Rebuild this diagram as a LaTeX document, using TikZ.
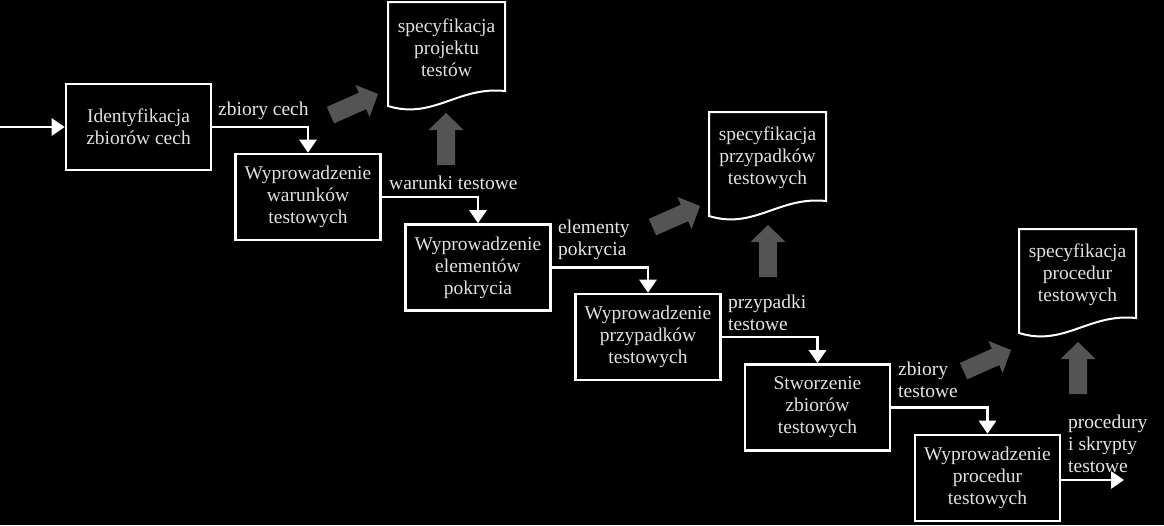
\documentclass[tikz,border=0pt]{standalone}
\usepackage{fontspec}
\setmainfont{Liberation Serif}
\usetikzlibrary{arrows.meta}
\begin{document}
\begin{tikzpicture}[x=1pt,y=-1pt,
  box/.style={draw=white,line width=2.6pt,fill=black,minimum width=145pt,minimum height=86pt,
    inner sep=0pt,align=center,text=white!88!black,font=\fontsize{19.5}{22}\selectfont},
  conn/.style={draw=white,line width=2.8pt,-{Triangle[width=17pt,length=13pt]}},
  lbl/.style={anchor=west,align=left,inner sep=0pt,text=white!90!black,font=\fontsize{19.5}{22}\selectfont},
  doc/.style={draw=white,line width=2pt,fill=black},
  doctext/.style={align=center,inner sep=0pt,text=white!88!black,font=\fontsize{19.5}{22}\selectfont},
  blk/.style={fill=black!67!white,draw=none}
]
\fill[black] (0,0) rectangle (1164,525);
\useasboundingbox (0,0) rectangle (1164,525);

% boxes
\node[box] (b1) at (138.5,127) {Identyfikacja\\zbiorów cech};
\node[box] (b2) at (308,197) {Wyprowadzenie\\warunków\\testowych};
\node[box] (b3) at (478,267.5) {Wyprowadzenie\\elementów\\pokrycia};
\node[box] (b4) at (648,337) {Wyprowadzenie\\przypadków\\testowych};
\node[box] (b5) at (817.5,407.5) {Stworzenie\\zbiorów\\testowych};
\node[box] (b6) at (987.5,478) {Wyprowadzenie\\procedur\\testowych};

\coordinate (in) at (0,127);
\coordinate (out) at (1124,480);
\draw[conn] (in) -- (b1.west);
\draw[conn] (b1.east) -| (b2.north);
\draw[conn] (b2.east) -| (b3.north);
\draw[conn] (b3.east) -| (b4.north);
\draw[conn] (b4.east) -| (b5.north);
\draw[conn] (b5.east) -| (b6.north);
\draw[conn] (b6.east|-out) -- (out);

% labels
\node[lbl] (l1) at (218,111) {zbiory cech};
\node[lbl] (l2) at (389,183) {warunki testowe};
\node[lbl] (l3) at (558,240) {elementy\\pokrycia};
\node[lbl] (l4) at (728,313) {przypadki\\testowe};
\node[lbl] (l5) at (898,380) {zbiory\\testowe};
\node[lbl] (l6) at (1068,443.5) {procedury\\i skrypty\\testowe};

% documents
\foreach \X/\Y in {388/2,709/112,1019/229}{
  \draw[doc] (\X,\Y) -- (\X+117,\Y) -- (\X+117,\Y+89)
     .. controls (\X+70,\Y+84) and (\X+45,\Y+118) .. (\X,\Y+104) -- cycle;
}
\node[doctext] (t1) at (446.5,48) {specyfikacja\\projektu\\testów};
\node[doctext] (t2) at (767.5,158) {specyfikacja\\przypadków\\testowych};
\node[doctext] (t3) at (1077.5,275) {specyfikacja\\procedur\\testowych};

% block arrows (tip at shift point)
\foreach \px/\py/\ang in {446/113/90, 768/225/90, 1078/342/90, 378/94/24, 700/206/24, 1011/350/24}{
  \fill[blk,shift={(\px,\py)},rotate=\ang]
    (0,0) -- (-17,-17.5) -- (-17,-9) -- (-52,-9) -- (-52,9) -- (-17,9) -- (-17,17.5) -- cycle;
}
\end{tikzpicture}
\end{document}
